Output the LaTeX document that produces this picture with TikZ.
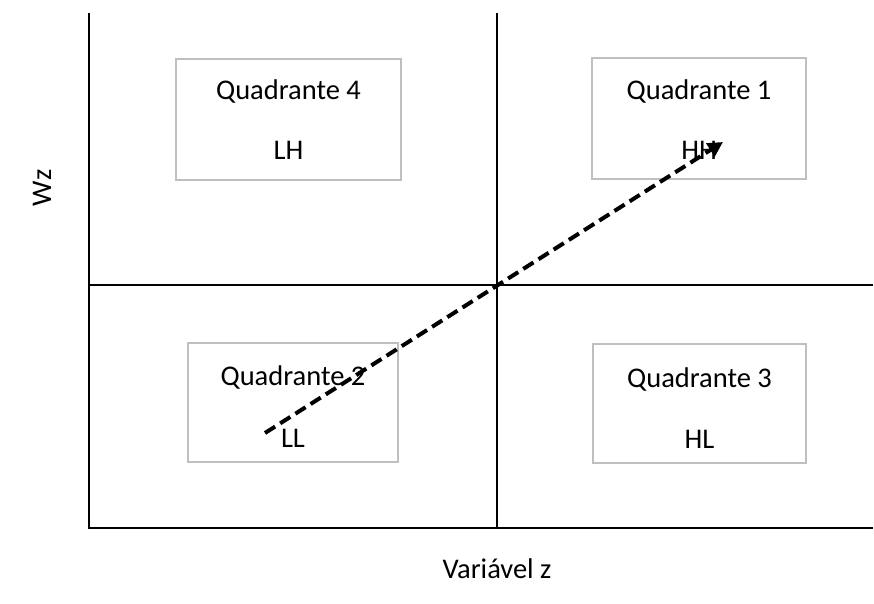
\documentclass[tikz,border=0pt]{standalone}
\usepackage{fontspec}
\setmainfont{Carlito}
\usetikzlibrary{arrows.meta}
\begin{document}
\begin{tikzpicture}[x=1pt,y=-1pt,
  axis/.style={line width=2.3pt,black},
  qbox/.style={draw=black!25,line width=1.8pt,rectangle,inner sep=0pt},
  qtxt/.style={font=\fontsize{28.5}{34}\selectfont,inner sep=0pt,anchor=base},
  lbl/.style={font=\fontsize{28.5}{34}\selectfont,inner sep=0pt},
  trend/.style={line width=4pt,dash pattern=on 12pt off 6pt,-{Triangle[length=15pt,width=15pt]}}]
\useasboundingbox (0,0) rectangle (874,604);
% axes
\coordinate (tl) at (89,13);
\coordinate (bl) at (89,528);
\coordinate (br) at (873,528);
\coordinate (tm) at (497,13);
\coordinate (bm) at (497,528);
\coordinate (ml) at (89,285);
\coordinate (mr) at (873,285);
\draw[axis] (tl) -- (bl) -- (br);
\draw[axis] (tm) -- (bm);
\draw[axis] (ml) -- (mr);
% boxes
\node[qbox,minimum width=225pt,minimum height=121pt] (q4) at (288.5,119.5) {};
\node[qbox,minimum width=214pt,minimum height=121pt] (q1) at (699,118.5) {};
\node[qbox,minimum width=210pt,minimum height=119pt] (q2) at (293,402.5) {};
\node[qbox,minimum width=213pt,minimum height=119pt] (q3) at (699.5,403.5) {};
% texts
\node[qtxt] (t4) at (288.5,100) {Quadrante 4};
\node[qtxt] (l4) at (288.5,160) {LH};
\node[qtxt] (t1) at (699,100) {Quadrante 1};
\node[qtxt] (l1) at (699,160) {HH};
\node[qtxt] (t2) at (293,385) {Quadrante 2};
\node[qtxt] (l2) at (293,447) {LL};
\node[qtxt] (t3) at (699.5,387) {Quadrante 3};
\node[qtxt] (l3) at (699.5,448) {HL};
% axis labels
\node[lbl,rotate=90] (wz) at (42,188) {Wz};
\node[lbl] (vz) at (497,569) {Variável z};
% trend arrow
\coordinate (s) at (265,433);
\coordinate (e) at (723,142);
\draw[trend] (s) -- (e);
\end{tikzpicture}
\end{document}
